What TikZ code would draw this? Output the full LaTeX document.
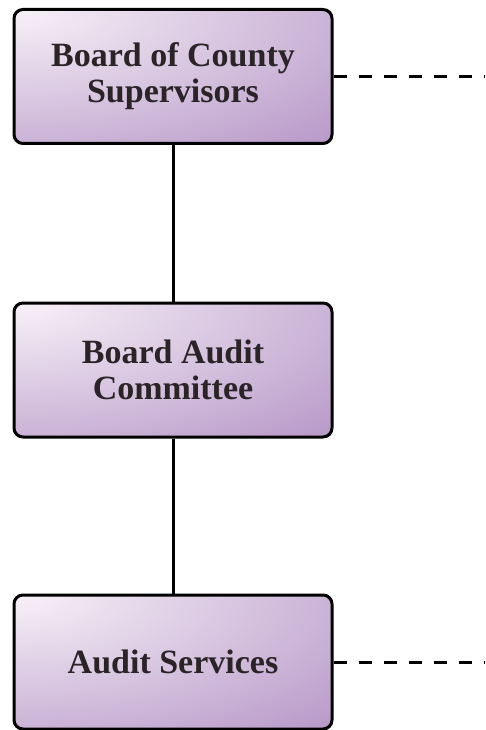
\documentclass[tikz,border=0pt]{standalone}
\usepackage{fontspec}
\setmainfont{Liberation Serif}
\definecolor{boxlight}{HTML}{F8F1F8}
\definecolor{boxdark}{HTML}{B393C5}
\definecolor{txt}{HTML}{2A2426}
\begin{document}
\begin{tikzpicture}[x=1pt,y=-1pt,
  orgbox/.style={draw=black, line width=3pt, rounded corners=9pt,
    minimum width=318pt, minimum height=134pt, inner sep=0pt,
    align=center, text=txt,
    font=\fontsize{34}{36}\selectfont\bfseries,
    path picture={\shade[inner color=boxlight, outer color=boxdark]
      (path picture bounding box.north west) ellipse (480pt and 200pt);}},
  link/.style={line width=3pt},
  dashlink/.style={line width=3pt, dash pattern=on 13pt off 12pt}]
\useasboundingbox (0,0) rectangle (485,730);
\node[orgbox] (bcs) at (173,76.5) {Board of County\\Supervisors};
\node[orgbox] (bac) at (173,370) {Board Audit\\Committee};
\node[orgbox] (as) at (173,662) {Audit Services};
\coordinate (e1) at (485,76.5);
\coordinate (e2) at (485,662);
\draw[link] (bcs.south) -- (bac.north);
\draw[link] (bac.south) -- (as.north);
\draw[dashlink] (bcs.east) -- (e1);
\draw[dashlink] (as.east) -- (e2);
\end{tikzpicture}
\end{document}
